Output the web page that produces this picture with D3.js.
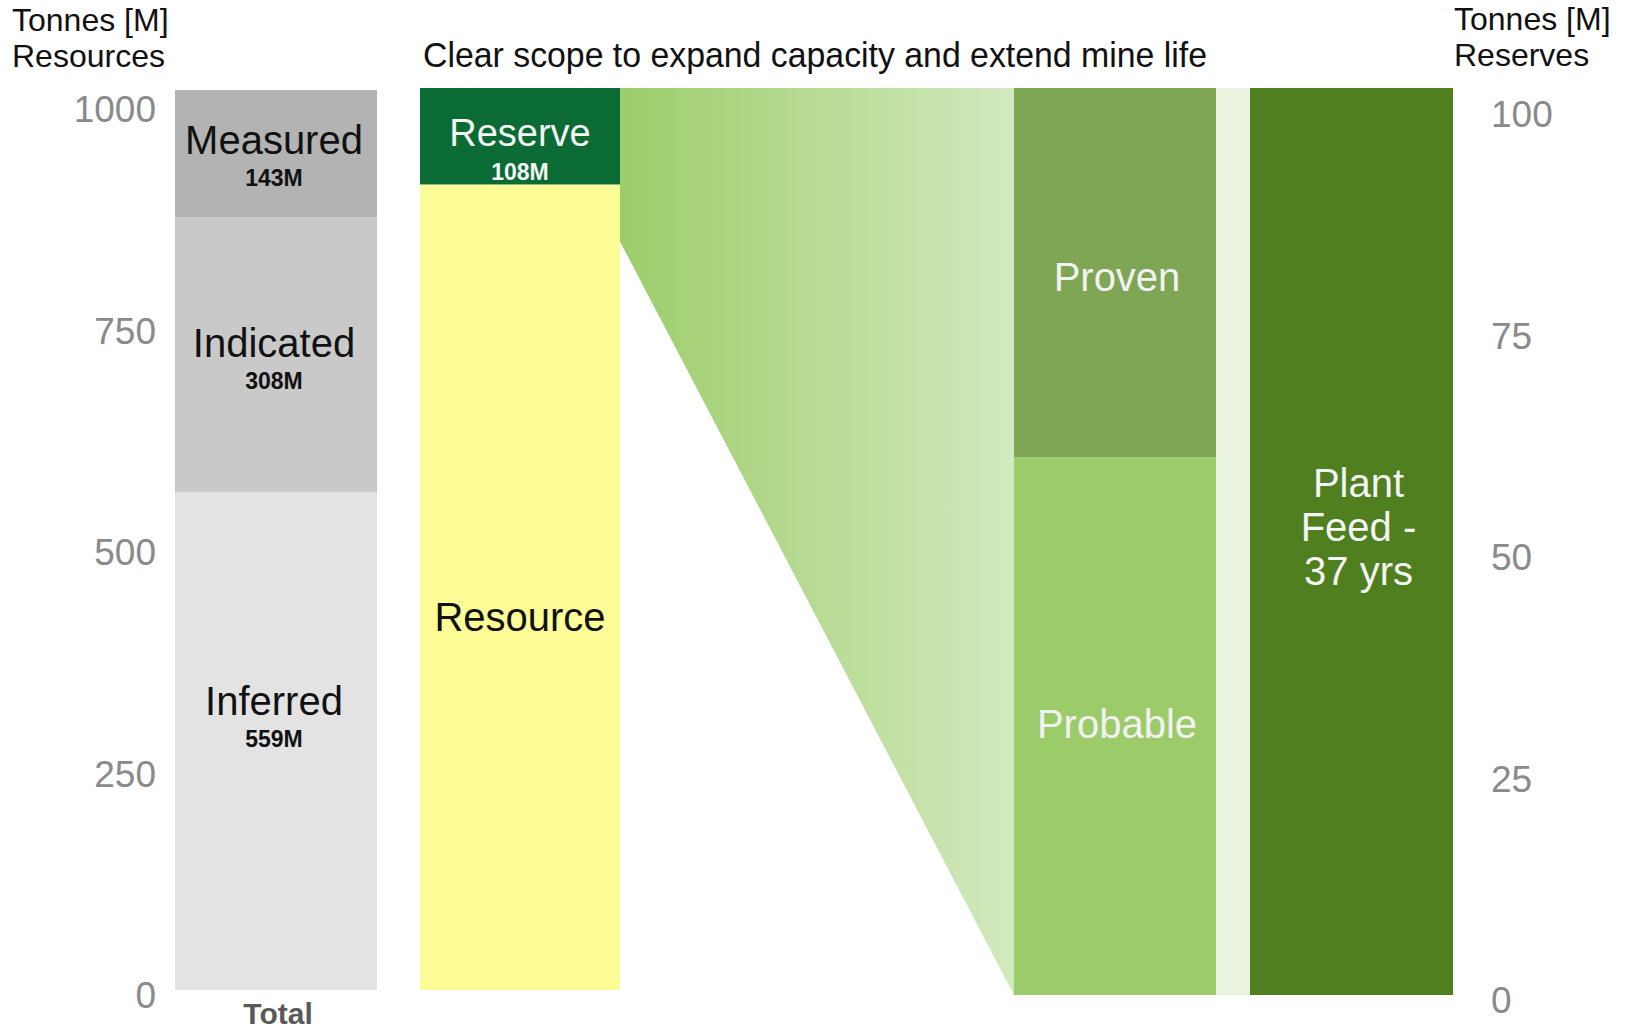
<!DOCTYPE html>
<html>
<head>
<meta charset="utf-8">
<title>Resources and Reserves</title>
<style>
    body{ margin:0; background:#fff; }
    svg text{ font-family:"Liberation Sans", Arial, sans-serif; }
    .tick text{ fill:#8a8a8a; font-size:37px; }
    .axis .domain, .axis line{ display:none; }
    .hdr{ font-size:32px; fill:#111; }
    .big{ font-size:40px; }
    .small{ font-size:23px; font-weight:bold; }
</style>
</head>
<body>
<script src="https://cdn.jsdelivr.net/npm/d3@7"></script>
<script>
var width = 1625, height = 1030;

// resources (left axis, Mt)
var resourceCats   = ["Inferred", "Indicated", "Measured"];
var resourceVals   = [559, 308, 143];
var resourceColors = ["#e3e3e3", "#c9c9c9", "#b3b3b3"];

// middle bar: resource vs converted reserve
var splitCats   = ["Resource", "Reserve"];
var splitVals   = [902, 108];
var splitColors = ["#fdfd98", "#0a6b35"];
var splitLabels = ["", "108M"];

// reserves (right axis, Mt)
var reserveCats   = ["Probable", "Proven"];
var reserveVals   = [64, 44];
var reserveColors = ["#9ccc69", "#7fa655"];

var plantFeed = [108];   // all of the reserve goes to plant feed
var funnelBase = 840;    // where the funnel leaves the resource bar

var leftTicks  = [0, 250, 500, 750, 1000];
var rightTicks = [0, 25, 50, 75, 100];

var svg = d3.select("body").append("svg")
    .attr("width", width)
    .attr("height", height);

var yRes = d3.scaleLinear().domain([0, 1010]).range([990, 90]);
var yMid = d3.scaleLinear().domain([0, 1010]).range([990, 88]);
var yRsv = d3.scaleLinear().domain([0, 108]).range([995, 88]);
var yAxL = d3.scaleLinear().domain([0, 1000]).range([996, 110]);
var yAxR = d3.scaleLinear().domain([0, 100]).range([1001, 115]);

var x = d3.scaleOrdinal()
    .domain(["Total", "Split", "Reserve", "Gap", "Plant"])
    .range([[175, 377], [420, 620], [1014, 1216], [1216, 1250], [1250, 1453]]);

function stack(vals){
    var acc = 0;
    return vals.map(function(v){ var s = acc; acc += v; return [s, acc]; });
}

// gradient for funnel
var defs = svg.append("defs");
var grad = defs.append("linearGradient").attr("id", "fun")
    .attr("x1", "0%").attr("x2", "100%").attr("y1", "0%").attr("y2", "0%");
grad.append("stop").attr("offset", "0%").attr("stop-color", "#9ccd6a");
grad.append("stop").attr("offset", "100%").attr("stop-color", "#d3e9bf");

// funnel polygon
var xs = x("Split"), xr = x("Reserve");
var total = d3.sum(resourceVals);
svg.append("path")
    .attr("d", d3.line()([
        [xs[1], yMid(total)],
        [xr[0], yRsv(d3.sum(reserveVals))],
        [xr[0], yRsv(0)],
        [xs[1], yRes(funnelBase)]
    ]) + "Z")
    .attr("fill", "url(#fun)");

// total resource stack
var xt = x("Total");
var rs = stack(resourceVals);
svg.selectAll(".res").data(resourceVals).enter().append("rect")
    .attr("x", xt[0]).attr("width", xt[1] - xt[0])
    .attr("y", function(d, i){ return yRes(rs[i][1]); })
    .attr("height", function(d, i){ return yRes(rs[i][0]) - yRes(rs[i][1]); })
    .attr("fill", function(d, i){ return resourceColors[i]; });

var labelOff = [-40, -12, -14];
resourceVals.forEach(function(v, i){
    var cy = (yRes(rs[i][0]) + yRes(rs[i][1])) / 2;
    var cx = (xt[0] + xt[1]) / 2 - 2;
    svg.append("text").attr("class", "big")
        .attr("x", cx).attr("y", cy + labelOff[i])
        .attr("text-anchor", "middle").attr("dy", "0.35em")
        .attr("fill", "#111").text(resourceCats[i]);
    svg.append("text").attr("class", "small")
        .attr("x", cx).attr("y", cy + labelOff[i] + 38)
        .attr("text-anchor", "middle").attr("dy", "0.35em")
        .attr("fill", "#111").text(v + "M");
});

svg.append("text")
    .attr("x", (xt[0] + xt[1]) / 2 + 2).attr("y", 1013)
    .attr("text-anchor", "middle").attr("dy", "0.35em")
    .attr("font-size", 30).attr("font-weight", "bold")
    .attr("fill", "#595959").text("Total");

// split bar
var ss = stack(splitVals);
svg.selectAll(".spl").data(splitVals).enter().append("rect")
    .attr("x", xs[0]).attr("width", xs[1] - xs[0])
    .attr("y", function(d, i){ return yMid(ss[i][1]); })
    .attr("height", function(d, i){ return yMid(ss[i][0]) - yMid(ss[i][1]); })
    .attr("fill", function(d, i){ return splitColors[i]; });

svg.append("text").attr("class", "big")
    .attr("x", (xs[0] + xs[1]) / 2).attr("y", yMid(splitVals[0] / 2) + 30)
    .attr("text-anchor", "middle").attr("dy", "0.35em")
    .attr("fill", "#111").text(splitCats[0]);
svg.append("text")
    .attr("x", (xs[0] + xs[1]) / 2).attr("y", yMid(ss[1][1]) + 45)
    .attr("text-anchor", "middle").attr("dy", "0.35em")
    .attr("font-size", 38).attr("fill", "#f4f4f4").text(splitCats[1]);
svg.append("text").attr("class", "small")
    .attr("x", (xs[0] + xs[1]) / 2).attr("y", yMid(ss[1][1]) + 84)
    .attr("text-anchor", "middle").attr("dy", "0.35em")
    .attr("fill", "#f4f4f4").text(splitLabels[1]);

// reserve stack
var rv = stack(reserveVals);
svg.selectAll(".rsv").data(reserveVals).enter().append("rect")
    .attr("x", xr[0]).attr("width", xr[1] - xr[0])
    .attr("y", function(d, i){ return yRsv(rv[i][1]); })
    .attr("height", function(d, i){ return yRsv(rv[i][0]) - yRsv(rv[i][1]); })
    .attr("fill", function(d, i){ return reserveColors[i]; });

var rvOff = [-2, 4];
reserveCats.forEach(function(c, i){
    svg.append("text").attr("class", "big")
        .attr("x", (xr[0] + xr[1]) / 2 + 2).attr("y", (yRsv(rv[i][0]) + yRsv(rv[i][1])) / 2 + rvOff[i])
        .attr("text-anchor", "middle").attr("dy", "0.35em")
        .attr("fill", "#f2f2f2").text(c);
});

// light band and plant feed
var xg = x("Gap"), xp = x("Plant");
svg.append("rect")
    .attr("x", xg[0]).attr("width", xg[1] - xg[0])
    .attr("y", yRsv(plantFeed[0])).attr("height", yRsv(0) - yRsv(plantFeed[0]))
    .attr("fill", "#eaf3e0");
svg.selectAll(".plant").data(plantFeed).enter().append("rect")
    .attr("x", xp[0]).attr("width", xp[1] - xp[0])
    .attr("y", function(d){ return yRsv(d); })
    .attr("height", function(d){ return yRsv(0) - yRsv(d); })
    .attr("fill", "#4f7f1f");

["Plant", "Feed -", "37 yrs"].forEach(function(t, i){
    svg.append("text").attr("class", "big")
        .attr("x", (xp[0] + xp[1]) / 2 + 7).attr("y", 483 + i * 44)
        .attr("text-anchor", "middle").attr("dy", "0.35em")
        .attr("fill", "#f4f4f4").text(t);
});

// axes
svg.append("g").attr("class", "axis")
    .attr("transform", "translate(166,0)")
    .call(d3.axisLeft(yAxL).tickValues(leftTicks).tickFormat(d3.format("d")).tickSize(0).tickPadding(10));
svg.append("g").attr("class", "axis")
    .attr("transform", "translate(1481,0)")
    .call(d3.axisRight(yAxR).tickValues(rightTicks).tickFormat(d3.format("d")).tickSize(0).tickPadding(10));

// headers
svg.append("text").attr("class", "hdr").attr("x", 12).attr("y", 31).text("Tonnes [M]");
svg.append("text").attr("class", "hdr").attr("x", 12).attr("y", 67).text("Resources");
svg.append("text").attr("class", "hdr").attr("x", 1454).attr("y", 30).text("Tonnes [M]");
svg.append("text").attr("class", "hdr").attr("x", 1454).attr("y", 66).text("Reserves");

svg.append("text")
    .attr("x", 423).attr("y", 67)
    .attr("font-family", "Lato, 'Open Sans', sans-serif")
    .attr("font-size", 35).attr("fill", "#111")
    .attr("textLength", 784).attr("lengthAdjust", "spacingAndGlyphs")
    .text("Clear scope to expand capacity and extend mine life");
</script>
</body>
</html>
